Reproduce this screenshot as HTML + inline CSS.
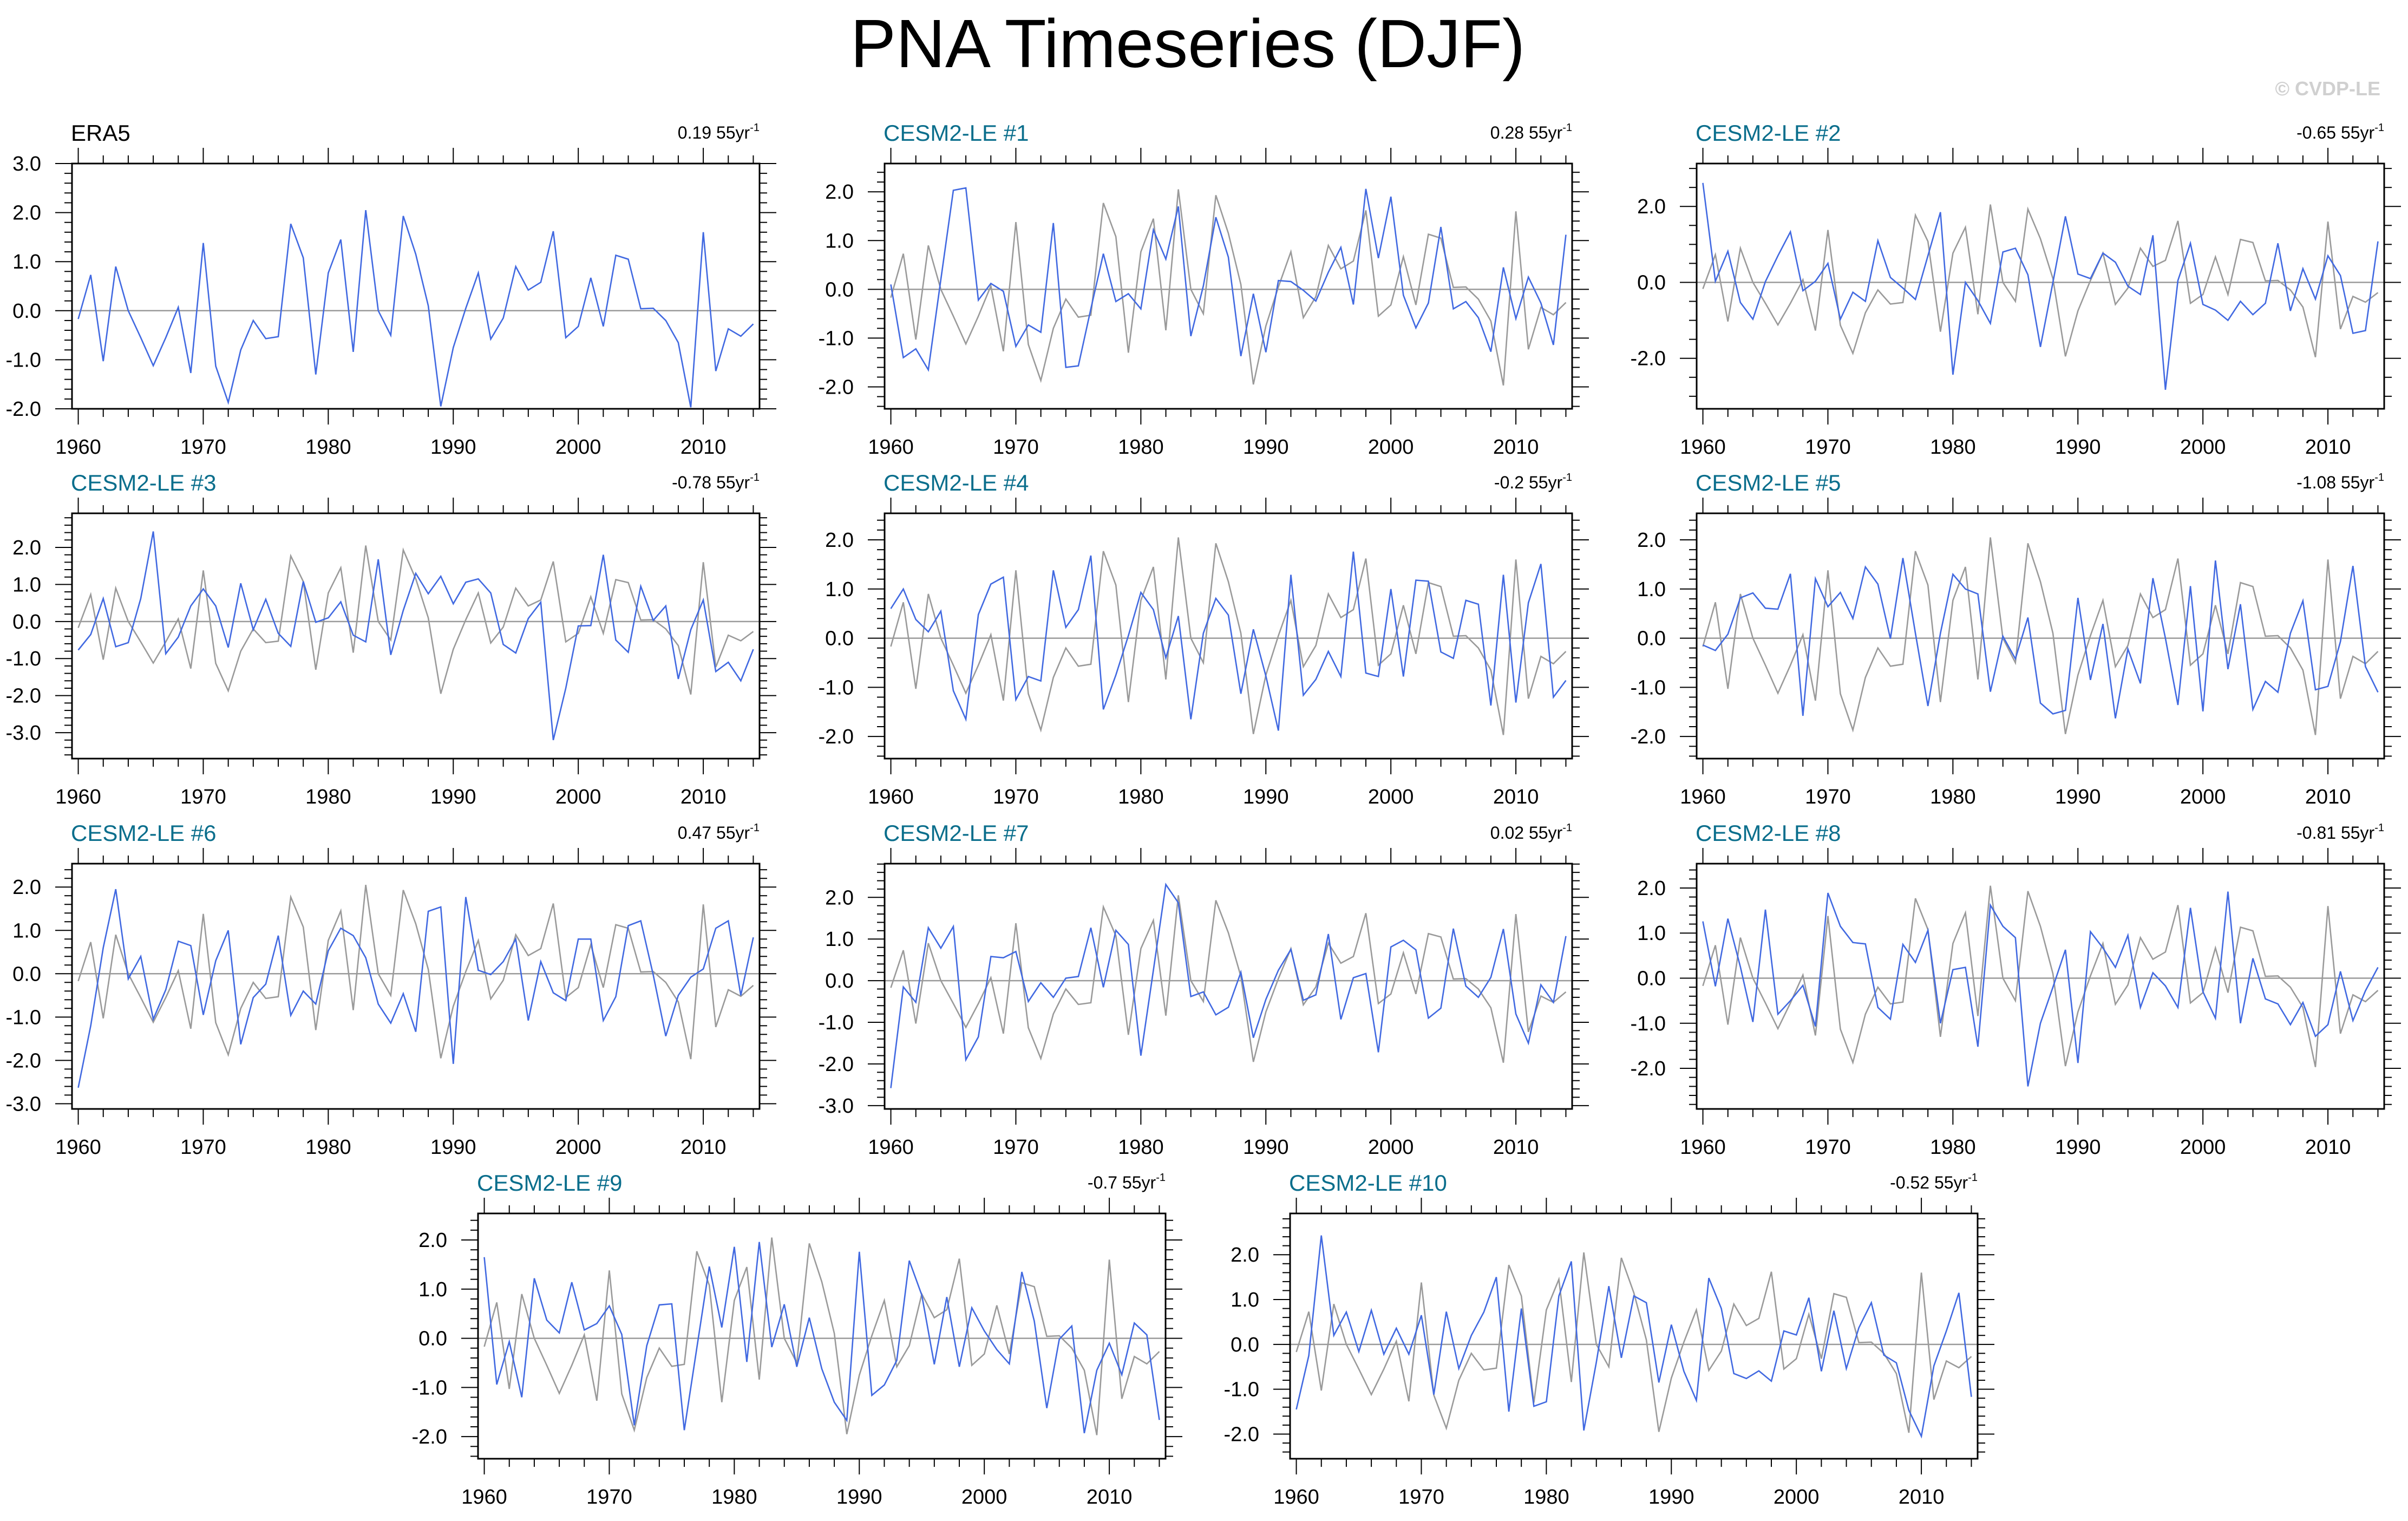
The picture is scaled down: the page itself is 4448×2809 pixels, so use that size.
<!DOCTYPE html>
<html><head><meta charset="utf-8"><title>PNA Timeseries (DJF)</title>
<style>
html,body{margin:0;padding:0;background:#fff;}
svg{display:block;font-family:"Liberation Sans",sans-serif;}
</style></head>
<body>
<svg id="fig" xmlns="http://www.w3.org/2000/svg" width="4448" height="2809" viewBox="0 0 4448 2809">
<rect width="4448" height="2809" fill="#fff"/>
<text x="2194" y="124" font-size="126" text-anchor="middle" fill="#000">PNA Timeseries (DJF)</text>
<text x="4397" y="176" font-size="36" font-weight="bold" text-anchor="end" fill="#d0d0d0">© CVDP-LE</text>
</svg>
<script>
const startYear = 1960;
const era5 = [-0.17,0.73,-1.03,0.9,0.0,-0.55,-1.12,-0.55,0.07,-1.27,1.38,-1.13,-1.87,-0.8,-0.2,-0.57,-0.53,1.77,1.08,-1.3,0.77,1.45,-0.84,2.05,0.0,-0.5,1.93,1.15,0.1,-1.95,-0.75,0.05,0.77,-0.58,-0.15,0.9,0.42,0.58,1.62,-0.55,-0.32,0.67,-0.32,1.13,1.05,0.04,0.05,-0.2,-0.65,-1.97,1.6,-1.23,-0.37,-0.52,-0.27];
const m1 = [0.1,-1.4,-1.22,-1.65,0.2,2.03,2.08,-0.22,0.12,-0.04,-1.17,-0.73,-0.88,1.36,-1.6,-1.57,-0.4,0.73,-0.25,-0.09,-0.4,1.22,0.62,1.7,-0.96,0.07,1.48,0.66,-1.37,-0.09,-1.29,0.18,0.16,-0.02,-0.24,0.35,0.86,-0.31,2.06,0.64,1.9,-0.12,-0.79,-0.28,1.28,-0.4,-0.25,-0.58,-1.28,0.45,-0.6,0.25,-0.28,-1.14,1.12];
const m2 = [2.62,0.03,0.82,-0.53,-0.97,0.02,0.7,1.33,-0.22,0.03,0.5,-0.97,-0.26,-0.5,1.1,0.13,-0.15,-0.45,0.7,1.85,-2.43,0.0,-0.48,-1.08,0.8,0.9,0.2,-1.7,0.0,1.74,0.22,0.1,0.77,0.53,-0.1,-0.32,1.24,-2.83,0.05,1.03,-0.58,-0.73,-1.0,-0.5,-0.85,-0.55,1.03,-0.75,0.36,-0.44,0.7,0.18,-1.34,-1.27,1.08];
const m3 = [-0.77,-0.35,0.62,-0.68,-0.57,0.62,2.43,-0.87,-0.42,0.42,0.88,0.42,-0.7,1.03,-0.22,0.6,-0.32,-0.67,1.08,-0.02,0.1,0.53,-0.37,-0.55,1.68,-0.9,0.3,1.3,0.75,1.22,0.48,1.06,1.15,0.77,-0.62,-0.85,0.08,0.52,-3.2,-1.8,-0.12,-0.11,1.8,-0.5,-0.83,0.95,0.03,0.42,-1.55,-0.22,0.58,-1.35,-1.1,-1.6,-0.75];
const m4 = [0.6,1.0,0.38,0.13,0.55,-1.07,-1.65,0.48,1.1,1.24,-1.25,-0.78,-0.87,1.38,0.22,0.58,1.68,-1.45,-0.75,0.05,0.93,0.58,-0.4,0.45,-1.65,0.1,0.81,0.47,-1.13,0.18,-0.77,-1.88,1.29,-1.16,-0.84,-0.27,-0.78,1.76,-0.71,-0.78,1.0,-0.78,1.18,1.16,-0.28,-0.41,0.77,0.69,-1.37,1.29,-1.31,0.72,1.51,-1.2,-0.86];
const m5 = [-0.14,-0.25,0.08,0.82,0.92,0.61,0.59,1.31,-1.58,1.21,0.64,0.93,0.4,1.45,1.1,-0.01,1.63,0.1,-1.38,0.1,1.3,1.0,0.9,-1.09,0.04,-0.42,0.42,-1.32,-1.54,-1.47,0.82,-0.85,0.29,-1.63,-0.22,-0.92,1.22,0.0,-1.36,1.06,-1.49,1.58,-0.63,0.69,-1.45,-0.88,-1.1,0.1,0.76,-1.05,-0.98,-0.07,1.47,-0.58,-1.1];
const m6 = [-2.63,-1.2,0.6,1.95,-0.12,0.4,-1.05,-0.37,0.75,0.65,-0.95,0.3,1.0,-1.63,-0.55,-0.24,0.88,-0.96,-0.4,-0.7,0.53,1.05,0.88,0.37,-0.7,-1.14,-0.46,-1.34,1.44,1.54,-2.08,1.77,0.08,-0.02,0.28,0.8,-1.08,0.28,-0.44,-0.62,0.8,0.8,-1.08,-0.53,1.11,1.22,-0.03,-1.44,-0.5,-0.08,0.11,1.05,1.22,-0.5,0.84];
const m7 = [-2.58,-0.15,-0.52,1.27,0.78,1.3,-1.9,-1.35,0.58,0.55,0.7,-0.5,-0.05,-0.4,0.06,0.1,1.27,-0.16,1.21,0.87,-1.8,0.25,2.31,1.87,-0.38,-0.27,-0.82,-0.64,0.2,-1.37,-0.45,0.25,0.75,-0.47,-0.34,1.12,-0.93,0.07,0.17,-1.72,0.81,0.97,0.74,-0.9,-0.66,1.25,-0.13,-0.4,0.08,1.24,-0.8,-1.5,-0.1,-0.52,1.07];
const m8 = [1.26,-0.18,1.32,0.25,-0.97,1.52,-0.8,-0.5,-0.16,-1.07,1.89,1.15,0.79,0.76,-0.65,-0.91,0.75,0.35,1.06,-1.0,0.19,0.24,-1.52,1.62,1.15,0.9,-2.4,-1.0,-0.2,0.63,-1.88,1.03,0.67,0.24,0.95,-0.65,0.12,-0.17,-0.65,1.56,-0.3,-0.89,1.92,-1.0,0.44,-0.46,-0.57,-1.03,-0.54,-1.29,-1.03,0.15,-0.94,-0.28,0.24];
const m9 = [1.65,-0.94,-0.07,-1.2,1.22,0.37,0.11,1.14,0.17,0.3,0.66,0.08,-1.77,-0.15,0.68,0.7,-1.87,-0.2,1.46,0.22,1.86,-0.48,1.96,-0.18,0.69,-0.58,0.42,-0.62,-1.3,-1.67,1.76,-1.16,-0.95,-0.45,1.58,0.88,-0.53,0.84,-0.58,0.62,0.15,-0.23,-0.52,1.35,0.35,-1.42,-0.02,0.25,-1.93,-0.65,-0.1,-0.74,0.31,0.07,-1.66];
const m10 = [-1.45,-0.25,2.43,0.2,0.72,-0.16,0.76,-0.22,0.36,-0.22,0.65,-1.12,0.73,-0.54,0.2,0.72,1.5,-1.5,0.8,-1.38,-1.28,1.08,1.85,-1.92,-0.4,1.3,-0.3,1.08,0.93,-0.85,0.44,-0.6,-1.25,1.48,0.8,-0.65,-0.76,-0.59,-0.82,0.3,0.21,1.04,-0.6,0.75,-0.54,0.37,0.93,-0.24,-0.41,-1.47,-2.05,-0.48,0.3,1.15,-1.17];
const panelTitles = ["ERA5","CESM2-LE #1","CESM2-LE #2","CESM2-LE #3","CESM2-LE #4","CESM2-LE #5","CESM2-LE #6","CESM2-LE #7","CESM2-LE #8","CESM2-LE #9","CESM2-LE #10"];
const trendValues = ["0.19","0.28","-0.65","-0.78","-0.2","-1.08","0.47","0.02","-0.81","-0.7","-0.52"];
const xTickYears = [1960,1970,1980,1990,2000,2010];

const series = [null,m1,m2,m3,m4,m5,m6,m7,m8,m9,m10];
const yMins = [-2,-2.45,-3.33,-3.70,-2.45,-2.45,-3.12,-3.08,-2.9,-2.45,-2.55];
const yMaxs = [3,2.58,3.13,2.92,2.54,2.54,2.54,2.81,2.54,2.54,2.92];
const yLabelMins = [-2,-2,-2,-3,-2,-2,-3,-3,-2,-2,-2];
const yLabelMaxs = [3,2,2,2,2,2,2,2,2,2,2];
const yLabelSteps = [1,1,2,1,1,1,1,1,1,1,1];
const yMinorSteps = [0.2,0.2,0.5,0.2,0.2,0.2,0.2,0.2,0.2,0.2,0.2];

const NS = "http://www.w3.org/2000/svg";
const svg = document.getElementById('fig');
const BW = 1270, BH = 453;
const colX = [133,1634,3134];
const rowY = [302,948,1595,2241];
const boxPos = [];
for (let r=0;r<3;r++) for (let c=0;c<3;c++) boxPos.push([colX[c],rowY[r]]);
boxPos.push([883,2241]); boxPos.push([2383,2241]);

function mk(tag, attrs, parent){
  const e = document.createElementNS(NS, tag);
  for (const k in attrs) e.setAttribute(k, attrs[k]);
  parent.appendChild(e);
  return e;
}
function fmt(v){ return v.toFixed(1); }

for (let p=0;p<11;p++){
  const [bx,by] = boxPos[p];
  const g = mk('g',{},svg);
  
  
  const y0 = yMins[p], y1 = yMaxs[p];
  const xs = yr => bx + (yr - (startYear-0.5)) / 55 * BW;
  const ys = v => by + BH - (v - y0) / (y1 - y0) * BH;

  const zl = mk('line',{x1:bx,x2:bx+BW,y1:ys(0),y2:ys(0),stroke:'#9a9a9a','stroke-width':2.5},g);
  
  

  const drawLine = (arr, color, name) => {
    let d = '';
    arr.forEach((v,i)=>{ d += (i?'L':'M') + xs(startYear+i).toFixed(1) + ' ' + ys(v).toFixed(1); });
    const pl = mk('path',{d:d,fill:'none',stroke:color,'stroke-width':2.6,'stroke-linejoin':'miter'},g);
    
    
  };
  if (p>0){ drawLine(era5, '#9a9a9a', 'era5-reference-line'); drawLine(series[p], '#4169e1', 'member-line'); }
  else drawLine(era5, '#4169e1', 'era5-line');

  const box = mk('rect',{x:bx,y:by,width:BW,height:BH,fill:'none',stroke:'#000','stroke-width':3},g);
  
  

  for (let yr=startYear; yr<startYear+55; yr+=2){
    const major = (yr % 10 === 0);
    const len = major ? 29 : 15;
    const x = xs(yr);
    mk('line',{x1:x,x2:x,y1:by+BH,y2:by+BH+len,stroke:'#000','stroke-width':2},g);
    mk('line',{x1:x,x2:x,y1:by,y2:by-len,stroke:'#000','stroke-width':2},g);
  }
  xTickYears.forEach(yr=>{
    const t = mk('text',{x:xs(yr),y:by+BH+83,'font-size':38,'text-anchor':'middle',fill:'#000'},g);
    t.textContent = yr;
    
    
  });
  const ms = yMinorSteps[p];
  for (let v=Math.ceil(y0/ms-1e-6)*ms; v<=y1+1e-6; v+=ms){
    const y = ys(v);
    const isMajor = Math.abs(v - Math.round(v/yLabelSteps[p])*yLabelSteps[p])<1e-6;
    const len = isMajor ? 31 : 14;
    mk('line',{x1:bx,x2:bx-len,y1:y,y2:y,stroke:'#000','stroke-width':2},g);
    mk('line',{x1:bx+BW,x2:bx+BW+len,y1:y,y2:y,stroke:'#000','stroke-width':2},g);
  }
  for (let v=yLabelMins[p]; v<=yLabelMaxs[p]+1e-6; v+=yLabelSteps[p]){
    const t = mk('text',{x:bx-57,y:ys(v)+13,'font-size':38,'text-anchor':'end',fill:'#000'},g);
    t.textContent = fmt(v);
    
    
  }
  const tt = mk('text',{x:bx-2,y:by-42,'font-size':42,fill:p===0?'#000':'#0a6e8c'},g);
  tt.textContent = panelTitles[p];
  
  
  const tr = mk('text',{x:bx+BW,y:by-46,'font-size':32,'text-anchor':'end',fill:'#000'},g);
  
  
  const s1 = mk('tspan',{},tr); s1.textContent = trendValues[p] + ' 55yr';
  const s2 = mk('tspan',{'font-size':20,dy:-14},tr); s2.textContent = '-1';
}
</script>
</body></html>
